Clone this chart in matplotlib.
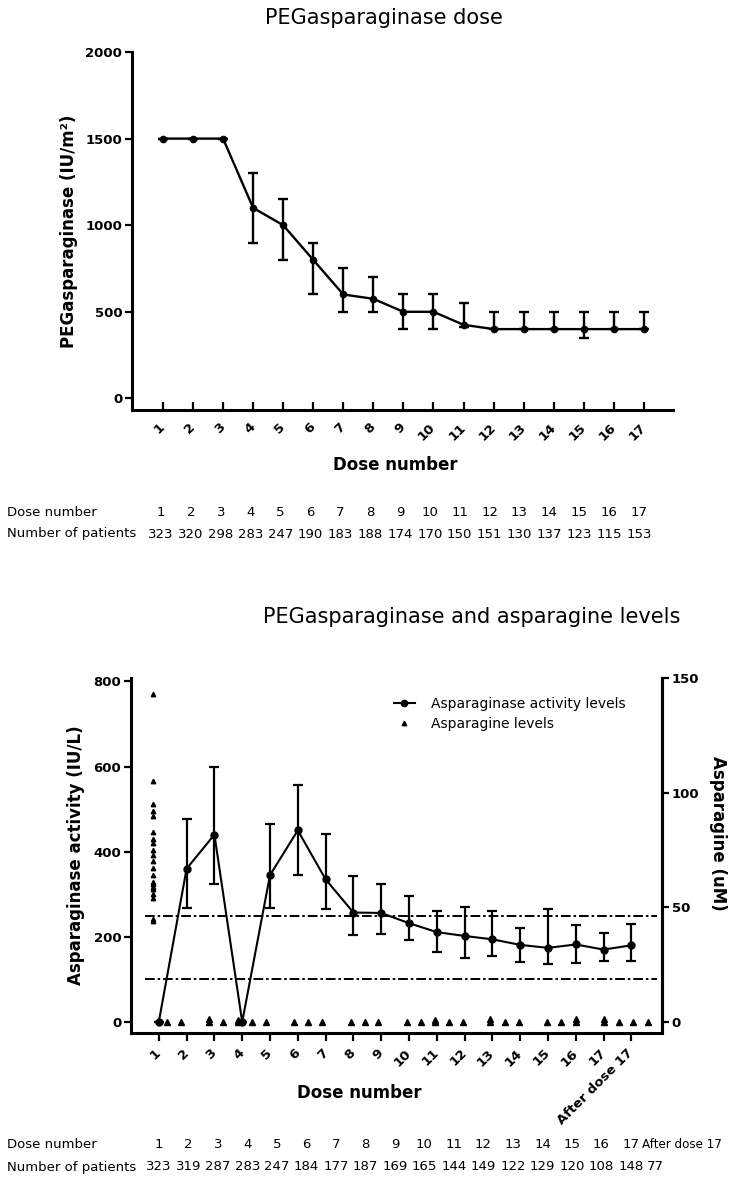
import numpy as np
import matplotlib
matplotlib.use("Agg")
import matplotlib.pyplot as plt
from matplotlib.lines import Line2D

plt.rcParams['font.family'] = ['DejaVu Sans']

# --- PEGasparaginase dose per dose number (median with range bars) ---
doses_top = list(range(1, 18))
peg_dose = [1500, 1500, 1500, 1100, 1000, 800, 600, 575, 500, 500, 425, 400, 400, 400, 400, 400, 400]
peg_lo = [1500, 1500, 1500, 900, 800, 600, 500, 500, 400, 400, 410, 400, 400, 400, 350, 400, 400]
peg_hi = [1500, 1500, 1500, 1300, 1150, 900, 750, 700, 600, 600, 550, 500, 500, 500, 500, 500, 500]
patients_top = [323, 320, 298, 283, 247, 190, 183, 188, 174, 170, 150, 151, 130, 137, 123, 115, 153]

# --- asparaginase activity (IU/L) ---
dose_labels_bot = [str(i) for i in range(1, 18)] + ['After dose 17']
activity = [0, 360, 440, 0, 345, 450, 335, 257, 256, 232, 211, 202, 194, 181, 174, 182, 170, 180]
activity_lo = [0, 267, 323, 0, 268, 346, 265, 205, 207, 193, 165, 151, 156, 141, 135, 138, 142, 144]
activity_hi = [0, 477, 600, 0, 465, 556, 442, 344, 325, 295, 261, 270, 260, 221, 265, 228, 209, 230]
patients_bot = [323, 319, 287, 283, 247, 184, 177, 187, 169, 165, 144, 149, 122, 129, 120, 108, 148, 77]

# --- asparagine levels (uM): baseline column plus samples between doses ---
asn_base_x = 0.79
asn_base = [143, 105, 95, 92, 90, 83, 80, 78, 75, 73, 70, 67, 64, 61, 60, 59, 58, 56, 54, 45, 44]
asn_x = [1.29, 1.8, 2.8, 2.8, 3.3, 3.85, 3.85, 4.35, 4.85, 5.86, 6.36, 6.86, 7.9, 8.4, 8.9,
         9.93, 10.43, 10.93, 10.93, 11.43, 11.93, 12.93, 12.93, 13.45, 13.95, 14.96, 15.46,
         16.0, 16.0, 17.03, 17.03, 17.57, 18.05, 18.6]
asn_y = [0, 0, 0, 1.2, 0, 0, 1.0, 0, 0, 0, 0, 0, 0, 0, 0,
         0, 0, 0, 1.0, 0, 0, 0, 1.2, 0, 0, 0, 0,
         0, 1.2, 0, 1.2, 0, 0, 0]

W, H = 729, 1177
fig = plt.figure(figsize=(W / 100, H / 100), dpi=100)


def px_axes(left, top, right, bottom):
    return fig.add_axes([left / W, 1 - bottom / H, (right - left) / W, (bottom - top) / H])


def style_ticks(ax):
    for lab in ax.get_xticklabels() + ax.get_yticklabels():
        lab.set_fontweight('bold')
        lab.set_fontsize(9.5)


# ---------------- top panel ----------------
ax1 = px_axes(132, 52, 673, 410)
y = np.array(peg_dose)
yerr = [y - np.array(peg_lo), np.array(peg_hi) - y]
ax1.errorbar(doses_top, y, yerr=yerr, color='black', lw=1.7, marker='o', ms=4.5,
             capsize=3.3, capthick=1.7, elinewidth=1.7)
ax1.set_xlim(-0.03, 17.97)
ax1.set_ylim(-67, 2000)
ax1.set_yticks([0, 500, 1000, 1500, 2000])
ax1.set_xticks(doses_top)
ax1.set_xticklabels([str(d) for d in doses_top], rotation=45, ha='right',
                    va='center', rotation_mode='anchor')
ax1.spines[['top', 'right']].set_visible(False)
ax1.spines[['left', 'bottom']].set_linewidth(2.2)
ax1.tick_params(axis='x', direction='in', length=6, width=1.6, pad=11)
ax1.tick_params(axis='y', direction='out', length=5, width=1.6, pad=2)
style_ticks(ax1)
ax1.set_ylabel('PEGasparaginase (IU/m²)', fontsize=12, fontweight='bold', labelpad=5)

fig.text(384 / W, 1 - 18 / H, 'PEGasparaginase dose', fontsize=15, ha='center', va='center')
fig.text(395 / W, 1 - 465 / H, 'Dose number', fontsize=12, fontweight='bold', ha='center', va='center')

fig.text(7 / W, 1 - 512 / H, 'Dose number', fontsize=9.5, va='center')
fig.text(7 / W, 1 - 534 / H, 'Number of patients', fontsize=9.5, va='center')
for xp, d, n in zip(np.linspace(161, 639, 17), doses_top, patients_top):
    fig.text(xp / W, 1 - 512 / H, str(d), fontsize=9.5, ha='center', va='center')
    fig.text(xp / W, 1 - 534 / H, str(n), fontsize=9.5, ha='center', va='center')

# ---------------- bottom panel ----------------
ax2 = px_axes(131, 678, 662, 1033)
x2 = np.arange(1, len(activity) + 1)
a = np.array(activity)
aerr = [a - np.array(activity_lo), np.array(activity_hi) - a]
ax2.errorbar(x2, a, yerr=aerr, color='black', lw=1.5, marker='o', ms=5,
             capsize=3.3, capthick=1.6, elinewidth=1.6, zorder=3)
dashdot = (0, (5, 1.5, 1.3, 1.5))
ax2.axhline(250, xmin=0.026, xmax=0.99, color='black', lw=1.4, ls=dashdot)
ax2.axhline(100, xmin=0.026, xmax=0.99, color='black', lw=1.4, ls=dashdot)
ax2.set_xlim(0, 19.1)
ax2.set_ylim(-26, 808)
ax2.set_yticks([0, 200, 400, 600, 800])
ax2.set_xticks(x2)
ax2.set_xticklabels(dose_labels_bot, rotation=45, ha='right', va='center',
                    rotation_mode='anchor')
ax2.spines['top'].set_visible(False)
ax2.spines[['left', 'bottom', 'right']].set_linewidth(2.2)
ax2.tick_params(axis='x', direction='out', length=6, width=1.6, pad=7)
ax2.tick_params(axis='y', direction='out', length=5, width=1.6, pad=2)
style_ticks(ax2)
ax2.set_ylabel('Asparaginase activity (IU/L)', fontsize=12, fontweight='bold', labelpad=6)

ax3 = ax2.twinx()
ax3.set_ylim(-4.8, 150)
ax3.set_yticks([0, 50, 100, 150])
ax3.plot([asn_base_x] * len(asn_base), asn_base, ls='none', marker='^', ms=3.2, color='black')
ax3.plot(asn_x, asn_y, ls='none', marker='^', ms=3.8, color='black')
ax3.spines[['top', 'left', 'bottom']].set_visible(False)
ax3.spines['right'].set_linewidth(2.2)
ax3.tick_params(axis='y', direction='out', length=5, width=1.6, pad=2)
style_ticks(ax3)

fig.text(472 / W, 1 - 617 / H, 'PEGasparaginase and asparagine levels', fontsize=15,
         ha='center', va='center')
fig.text(359 / W, 1 - 1093 / H, 'Dose number', fontsize=12, fontweight='bold',
         ha='center', va='center')
fig.text(718 / W, 1 - 833 / H, 'Asparagine (uM)', fontsize=12, fontweight='bold',
         rotation=270, ha='center', va='center')

handles = [Line2D([], [], color='black', lw=1.5, marker='o', ms=4.5),
           Line2D([], [], ls='none', color='black', marker='^', ms=3.2)]
fig.legend(handles, ['Asparaginase activity levels', 'Asparagine levels'],
           loc='upper left', bbox_to_anchor=(394 / W, 1 - 697 / H), frameon=False,
           fontsize=10, handlelength=1.5, handletextpad=1.2, labelspacing=0.45,
           borderpad=0, borderaxespad=0)

fig.text(7 / W, 1 - 1145 / H, 'Dose number', fontsize=9.5, va='center')
fig.text(7 / W, 1 - 1167 / H, 'Number of patients', fontsize=9.5, va='center')
cols = np.linspace(159, 631, 17)
for xp, lab, n in zip(cols, dose_labels_bot[:17], patients_bot[:17]):
    fig.text(xp / W, 1 - 1145 / H, lab, fontsize=9.5, ha='center', va='center')
    fig.text(xp / W, 1 - 1167 / H, str(n), fontsize=9.5, ha='center', va='center')
fig.text(642 / W, 1 - 1145 / H, dose_labels_bot[17], fontsize=8.6, va='center')
fig.text(647 / W, 1 - 1167 / H, str(patients_bot[17]), fontsize=9.5, va='center')

fig.savefig('out.png', dpi=100)
